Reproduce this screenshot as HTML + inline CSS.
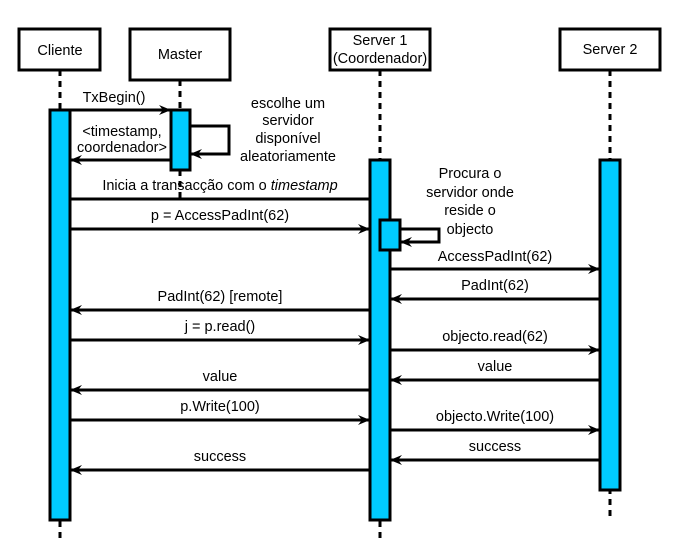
<!DOCTYPE html>
<html><head><meta charset="utf-8"><style>
html,body{margin:0;padding:0;background:#fff;}
svg{display:block;}
text{font-family:"Liberation Sans",sans-serif;font-size:14.5px;fill:#000;}
</style></head><body>
<svg width="680" height="560" viewBox="0 0 680 560" xmlns="http://www.w3.org/2000/svg">
<defs>
<marker id="a" markerWidth="14" markerHeight="12" refX="13" refY="6" orient="auto" markerUnits="userSpaceOnUse">
<path d="M1,1 L13,6 L1,11 L5,6 Z" fill="#000"/>
</marker>
</defs>
<g stroke="#000" stroke-width="3" stroke-dasharray="6,5">
<line x1="60" y1="70" x2="60" y2="540"/>
<line x1="180" y1="80" x2="180" y2="110"/>
<line x1="180" y1="170" x2="180" y2="200"/>
<line x1="380" y1="70" x2="380" y2="540"/>
<line x1="610" y1="70" x2="610" y2="520"/>
</g>
<g fill="#fff" stroke="#000" stroke-width="3">
<rect x="19" y="29" width="81" height="41"/>
<rect x="130" y="29" width="100" height="51"/>
<rect x="330" y="29" width="100" height="41"/>
<rect x="560" y="29" width="100" height="41"/>
</g>
<text x="60" y="55" text-anchor="middle">Cliente</text>
<text x="180" y="59" text-anchor="middle">Master</text>
<text x="380" y="45" text-anchor="middle">Server 1</text>
<text x="380" y="63" text-anchor="middle">(Coordenador)</text>
<text x="610" y="54" text-anchor="middle">Server 2</text>
<g fill="#00ccff" stroke="#000" stroke-width="3">
<rect x="50" y="110" width="20" height="410"/>
<rect x="171" y="110" width="19" height="60"/>
<rect x="370" y="160" width="20" height="360"/>
<rect x="600" y="160" width="20" height="330"/>
<rect x="380" y="220" width="20" height="30"/>
</g>
<g stroke="#000" stroke-width="3" fill="none">
<line x1="70" y1="110" x2="171" y2="110" marker-end="url(#a)"/>
<line x1="171" y1="160" x2="70" y2="160" marker-end="url(#a)"/>
<polyline points="190,126 229,126 229,154 190,154" marker-end="url(#a)"/>
<line x1="70" y1="199" x2="370" y2="199"/>
<line x1="70" y1="229" x2="370" y2="229" marker-end="url(#a)"/>
<polyline points="400,229 439,229 439,242 400,242" marker-end="url(#a)"/>
<line x1="390" y1="269" x2="600" y2="269" marker-end="url(#a)"/>
<line x1="600" y1="299" x2="390" y2="299" marker-end="url(#a)"/>
<line x1="370" y1="310" x2="70" y2="310" marker-end="url(#a)"/>
<line x1="70" y1="340" x2="370" y2="340" marker-end="url(#a)"/>
<line x1="390" y1="350" x2="600" y2="350" marker-end="url(#a)"/>
<line x1="600" y1="380" x2="390" y2="380" marker-end="url(#a)"/>
<line x1="370" y1="390" x2="70" y2="390" marker-end="url(#a)"/>
<line x1="70" y1="420" x2="370" y2="420" marker-end="url(#a)"/>
<line x1="390" y1="430" x2="600" y2="430" marker-end="url(#a)"/>
<line x1="600" y1="460" x2="390" y2="460" marker-end="url(#a)"/>
<line x1="370" y1="470" x2="70" y2="470" marker-end="url(#a)"/>
</g>
<text x="114" y="102" text-anchor="middle">TxBegin()</text>
<text x="122" y="136" text-anchor="middle">&lt;timestamp,</text>
<text x="122" y="152" text-anchor="middle">coordenador&gt;</text>
<text x="288" y="108" text-anchor="middle">escolhe um</text>
<text x="288" y="125" text-anchor="middle">servidor</text>
<text x="288" y="143" text-anchor="middle">disponível</text>
<text x="288" y="161" text-anchor="middle">aleatoriamente</text>
<text x="220" y="190" text-anchor="middle">Inicia a transacção com o <tspan font-style="italic">timestamp</tspan></text>
<text x="220" y="220" text-anchor="middle">p = AccessPadInt(62)</text>
<text x="470" y="178" text-anchor="middle">Procura o</text>
<text x="470" y="197" text-anchor="middle">servidor onde</text>
<text x="470" y="215" text-anchor="middle">reside o</text>
<text x="470" y="234" text-anchor="middle">objecto</text>
<text x="495" y="261" text-anchor="middle">AccessPadInt(62)</text>
<text x="495" y="290" text-anchor="middle">PadInt(62)</text>
<text x="220" y="301" text-anchor="middle">PadInt(62) [remote]</text>
<text x="220" y="331" text-anchor="middle">j = p.read()</text>
<text x="495" y="341" text-anchor="middle">objecto.read(62)</text>
<text x="495" y="371" text-anchor="middle">value</text>
<text x="220" y="381" text-anchor="middle">value</text>
<text x="220" y="411" text-anchor="middle">p.Write(100)</text>
<text x="495" y="421" text-anchor="middle">objecto.Write(100)</text>
<text x="495" y="451" text-anchor="middle">success</text>
<text x="220" y="461" text-anchor="middle">success</text>
</svg>
</body></html>
